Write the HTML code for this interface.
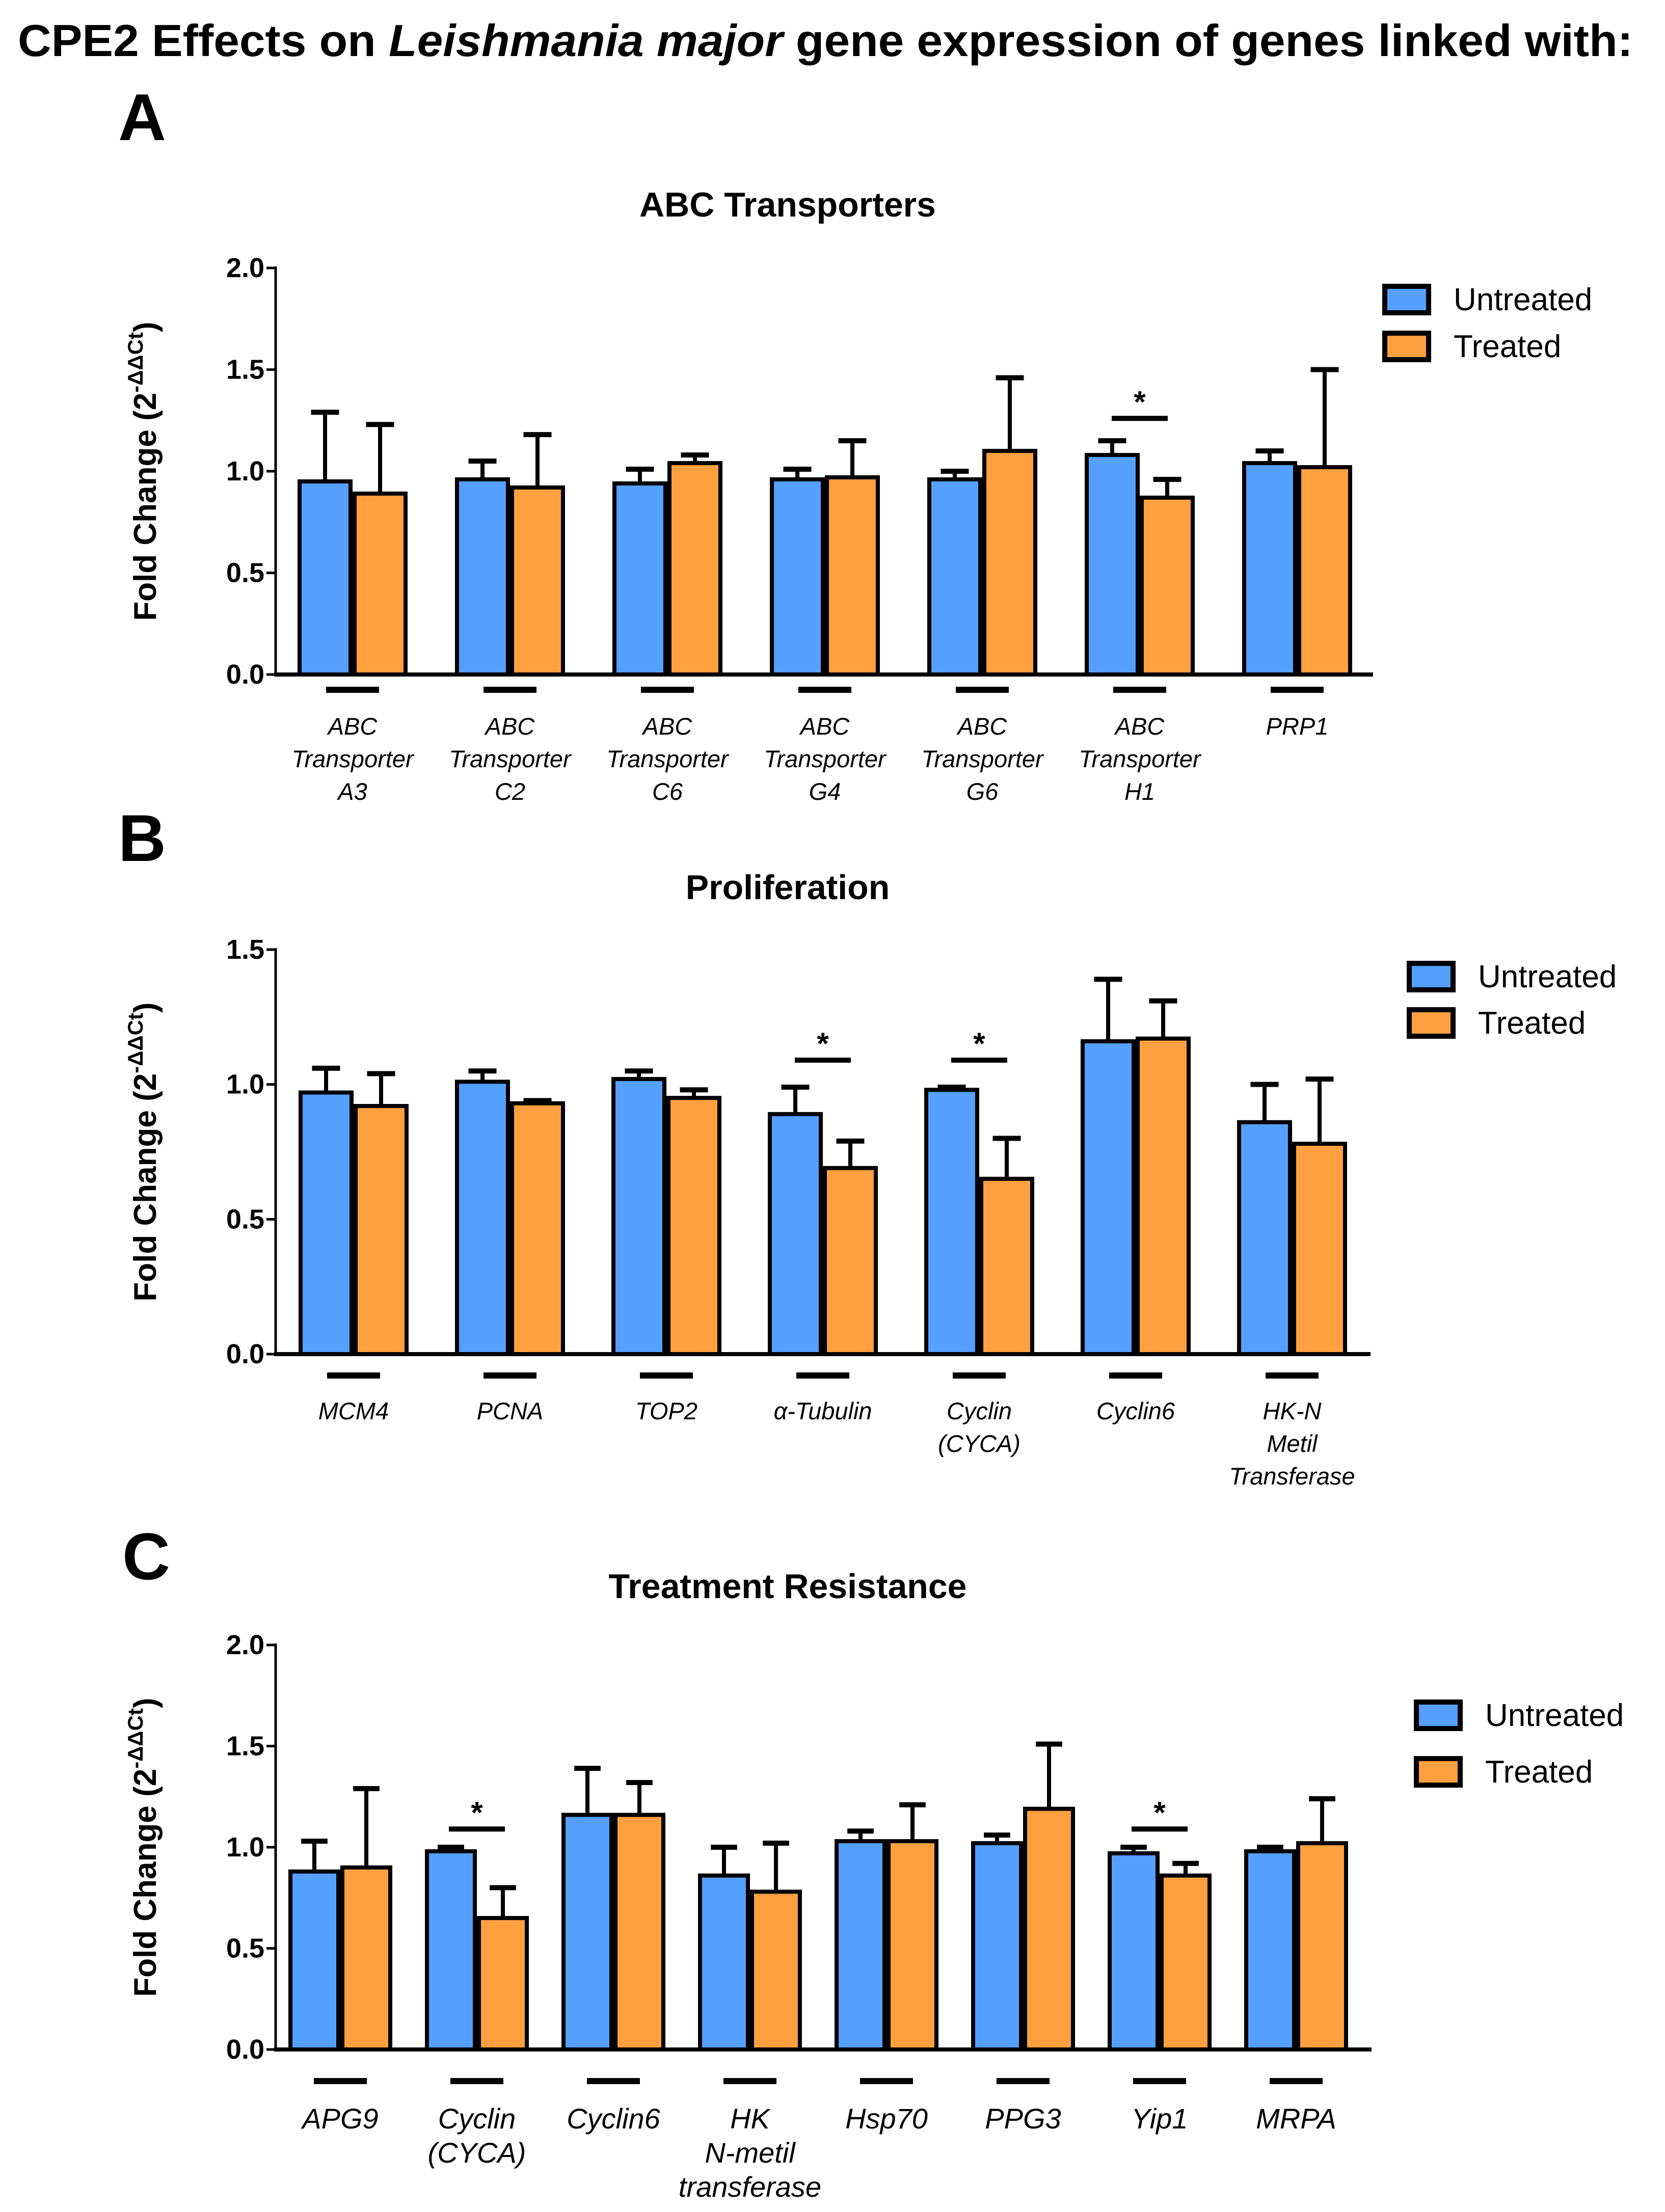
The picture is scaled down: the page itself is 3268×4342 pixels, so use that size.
<!DOCTYPE html>
<html><head><meta charset="utf-8"><style>
html,body{margin:0;padding:0;background:#fff}
svg{display:block}
text{font-family:"Liberation Sans",sans-serif}
</style></head><body>
<svg id="fig" width="3268" height="4342" viewBox="0 0 3268 4342" xmlns="http://www.w3.org/2000/svg">
<rect width="3268" height="4342" fill="#fff"/>
<text x="1620" y="110" text-anchor="middle" font-size="88" font-weight="bold" textLength="3170" lengthAdjust="spacingAndGlyphs">CPE2 Effects on <tspan font-style="italic">Leishmania major</tspan> gene expression of genes linked with:</text>
<text x="232" y="275" font-size="130" font-weight="bold">A</text>
<text x="232" y="1690" font-size="130" font-weight="bold">B</text>
<text x="240" y="3100" font-size="130" font-weight="bold">C</text>
<g id="charts"></g>
</svg>
<script>
// Panel A data
const catsA = [["ABC","Transporter","A3"],["ABC","Transporter","C2"],["ABC","Transporter","C6"],["ABC","Transporter","G4"],["ABC","Transporter","G6"],["ABC","Transporter","H1"],["PRP1"]];
const untreatedA = [0.95,0.96,0.94,0.96,0.96,1.08,1.04];
const untreatedErrA = [1.29,1.05,1.01,1.01,1.00,1.15,1.10];
const treatedA = [0.89,0.92,1.04,0.97,1.10,0.87,1.02];
const treatedErrA = [1.23,1.18,1.08,1.15,1.46,0.96,1.50];
const sigA = [5];
const sigLevelA = 1.26;
const ticksA = ["0.0","0.5","1.0","1.5","2.0"];
// Panel B data
const catsB = [["MCM4"],["PCNA"],["TOP2"],["α-Tubulin"],["Cyclin","(CYCA)"],["Cyclin6"],["HK-N","Metil","Transferase"]];
const untreatedB = [0.97,1.01,1.02,0.89,0.98,1.16,0.86];
const untreatedErrB = [1.06,1.05,1.05,0.99,0.99,1.39,1.00];
const treatedB = [0.92,0.93,0.95,0.69,0.65,1.17,0.78];
const treatedErrB = [1.04,0.94,0.98,0.79,0.80,1.31,1.02];
const sigB = [3,4];
const sigLevelB = 1.09;
const ticksB = ["0.0","0.5","1.0","1.5"];
// Panel C data
const catsC = [["APG9"],["Cyclin","(CYCA)"],["Cyclin6"],["HK","N-metil","transferase"],["Hsp70"],["PPG3"],["Yip1"],["MRPA"]];
const untreatedC = [0.88,0.98,1.16,0.86,1.03,1.02,0.97,0.98];
const untreatedErrC = [1.03,1.00,1.39,1.00,1.08,1.06,1.00,1.00];
const treatedC = [0.90,0.65,1.16,0.78,1.03,1.19,0.86,1.02];
const treatedErrC = [1.29,0.80,1.32,1.02,1.21,1.51,0.92,1.24];
const sigC = [1,6];
const sigLevelC = 1.09;
const ticksC = ["0.0","0.5","1.0","1.5","2.0"];

const NS="http://www.w3.org/2000/svg";
const root=document.getElementById('charts');
function mk(tag,attrs,parent){const e=document.createElementNS(NS,tag);for(const k in attrs)e.setAttribute(k,attrs[k]);(parent||root).appendChild(e);return e;}
const BLUE="#559FFF", ORANGE="#FFA040";

function drawChart(id,title,titleY,L,cats,u,ue,t,te,sig,sigLevel,ticks){
  const g=mk('g',{});
  
  
  const yMax=parseFloat(ticks[ticks.length-1]);
  const y=v=>L.y0-(v/yMax)*(L.y0-L.yTop);
  const gx=i=>L.gc0+i*L.step;
  const tt=mk('text',{x:1546,y:titleY,'text-anchor':'middle','font-size':68,'font-weight':'bold'},g);
  tt.textContent=title;
  
  
  const ya=mk('line',{x1:L.ax,y1:L.yTop-3,x2:L.ax,y2:L.y0,stroke:'#000','stroke-width':5},g);
  
  
  ticks.forEach(tk=>{
    const v=parseFloat(tk);
    mk('line',{x1:L.ax-18,y1:y(v),x2:L.ax,y2:y(v),stroke:'#000','stroke-width':5},g);
    const tl=mk('text',{x:L.ax-22,y:y(v)+18,'text-anchor':'end','font-size':54,'font-weight':'bold'},g);
    tl.textContent=tk;
    
    
  });
  const yt=mk('text',{transform:`translate(${L.ax-235},${(L.y0+L.yTop)/2}) rotate(-90)`,'text-anchor':'middle','font-size':62,'font-weight':'bold'},g);
  yt.innerHTML='Fold Change (2<tspan dy="-26" font-size="42">-ΔΔCt</tspan><tspan dy="26">)</tspan>';
  
  
  const bw=L.bw, gap=8, cap=L.bw*0.55;
  cats.forEach((c,i)=>{
    const cx=gx(i);
    [[u[i],ue[i],BLUE,cx-gap/2-bw,'untreated'],[t[i],te[i],ORANGE,cx+gap/2,'treated']].forEach(([v,e,col,x0,nm])=>{
      const ex=x0+bw/2;
      mk('line',{x1:ex,y1:y(v),x2:ex,y2:y(e),stroke:'#000','stroke-width':8},g);
      mk('line',{x1:ex-cap/2,y1:y(e),x2:ex+cap/2,y2:y(e),stroke:'#000','stroke-width':10},g);
      const r=mk('rect',{x:x0,y:y(v),width:bw,height:L.y0-y(v),fill:col,stroke:'#000','stroke-width':8},g);
      
      
    });
    mk('line',{x1:cx-52,y1:L.dashY,x2:cx+52,y2:L.dashY,stroke:'#000','stroke-width':12},g);
    const lt=mk('text',{x:cx,'text-anchor':'middle','font-size':L.lfs,'font-style':'italic'},g);
    
    
    c.forEach((line,k)=>{const ts=mk('tspan',{x:cx,y:L.labY+k*L.lineH},lt);ts.textContent=line;});
  });
  const xa=mk('line',{x1:L.ax-3,y1:L.y0,x2:L.xEnd,y2:L.y0,stroke:'#000','stroke-width':8},g);
  
  
  sig.forEach(i=>{
    const cx=gx(i), sy=y(sigLevel);
    const sl=mk('line',{x1:cx-55,y1:sy,x2:cx+55,y2:sy,stroke:'#000','stroke-width':10},g);
    
    
    const st=mk('text',{x:cx,y:sy-12,'text-anchor':'middle','font-size':60,'font-weight':'bold'},g);
    st.textContent='*';
    
    
  });
  [['Untreated',BLUE,L.legY1],['Treated',ORANGE,L.legY2]].forEach(([nm,col,ly])=>{
    const lg=mk('g',{},g);
    
    
    mk('rect',{x:L.legX,y:ly-26,width:86,height:52,fill:col,stroke:'#000','stroke-width':10},lg);
    const lt=mk('text',{x:L.legX+135,y:ly+21,'font-size':62},lg);
    lt.textContent=nm;
  });
}
drawChart('a','ABC Transporters',425,{ax:541,y0:1324,yTop:526,xEnd:2695,gc0:692,step:309,bw:100,dashY:1354,labY:1442,lineH:64,lfs:47,legX:2718,legY1:588,legY2:680},catsA,untreatedA,untreatedErrA,treatedA,treatedErrA,sigA,sigLevelA,ticksA);
drawChart('b','Proliferation',1765,{ax:541,y0:2658,yTop:1864,xEnd:2690,gc0:694,step:307,bw:100,dashY:2700,labY:2786,lineH:64,lfs:47,legX:2766,legY1:1917,legY2:2008},catsB,untreatedB,untreatedErrB,treatedB,treatedErrB,sigB,sigLevelB,ticksB);
drawChart('c','Treatment Resistance',3137,{ax:541,y0:4023,yTop:3229,xEnd:2692,gc0:668,step:268,bw:94,dashY:4085,labY:4178,lineH:67,lfs:56,legX:2780,legY1:3367,legY2:3478},catsC,untreatedC,untreatedErrC,treatedC,treatedErrC,sigC,sigLevelC,ticksC);
</script>
</body></html>
